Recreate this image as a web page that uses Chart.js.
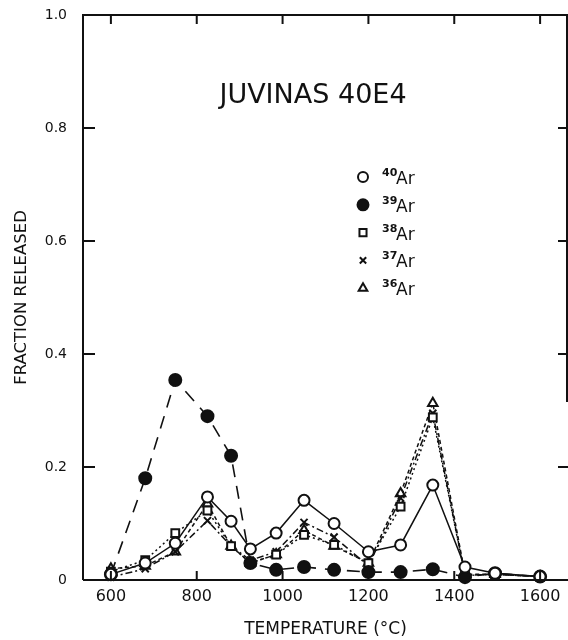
<!DOCTYPE html>
<html>
<head>
<meta charset="utf-8">
<script src="https://cdn.jsdelivr.net/npm/chart.js@4.4.1/dist/chart.umd.min.js"></script>
<style>
  html, body { margin: 0; padding: 0; background: #fff; overflow: hidden; }
  #wrap { width: 568px; height: 640px; }
</style>
</head>
<body>
<div id="wrap"><canvas id="chartJuvinas"></canvas></div>
<script>
// suhu ekstraksi (°C)
const suhu = [600, 680, 750, 825, 880, 925, 985, 1050, 1120, 1200, 1275, 1350, 1425, 1495, 1600];

// fraksi yang dilepas per isotop
const ar40 = [0.010, 0.030, 0.065, 0.147, 0.104, 0.055, 0.083, 0.141, 0.100, 0.050, 0.062, 0.168, 0.023, 0.012, 0.006];
const ar39 = [0.010, 0.180, 0.354, 0.290, 0.220, 0.030, 0.018, 0.023, 0.018, 0.014, 0.014, 0.019, 0.005, 0.012, 0.006];
const ar38 = [0.015, 0.035, 0.083, 0.123, 0.060, 0.030, 0.045, 0.080, 0.062, 0.030, 0.130, 0.288, 0.008, 0.010, 0.006];
const ar37 = [0.005, 0.020, 0.050, 0.105, 0.060, 0.035, 0.050, 0.102, 0.076, 0.025, 0.145, 0.295, 0.008, 0.010, 0.006];
const ar36 = [0.020, 0.025, 0.050, 0.135, 0.060, 0.030, 0.045, 0.088, 0.060, 0.030, 0.153, 0.313, 0.010, 0.010, 0.006];

const xTicks = [600, 800, 1000, 1200, 1400, 1600];
const yTicks = [0, 0.2, 0.4, 0.6, 0.8, 1.0];
const isotop = ["40", "39", "38", "37", "36"];
const judul = "JUVINAS 40E4";

const hitam = "#111";
const fontUtama = "'DejaVu Sans', sans-serif";

const toPoints = (arr) => arr.map((v, i) => ({ x: suhu[i], y: v }));

const makeSet = (label, data, style, radius, fill, dash, width) => ({
    label, data: toPoints(data),
    borderColor: hitam, backgroundColor: fill,
    pointStyle: style, pointRadius: radius, pointBorderWidth: 2,
    pointBackgroundColor: fill, pointBorderColor: hitam,
    borderWidth: width, borderDash: dash,
    tension: 0, clip: false, showLine: true
});

const datasets = [
    makeSet("40Ar", ar40, "circle", 5.5, "#fff", [], 1.5),
    makeSet("39Ar", ar39, "circle", 6, hitam, [13, 9], 1.6),
    makeSet("38Ar", ar38, "rect", 5.5, "#fff", [2, 3], 1.5),
    makeSet("37Ar", ar37, "crossRot", 5, hitam, [7, 3, 2, 3], 1.5),
    makeSet("36Ar", ar36, "triangle", 5.5, "#fff", [4, 3], 1.5)
];

// bingkai, tick ke dalam, judul, legenda
const framePlugin = {
    id: "framePlugin",
    afterDraw(chart) {
        const ctx = chart.ctx;
        const xs = chart.scales.x, ys = chart.scales.y;
        const a = chart.chartArea;
        ctx.save();
        ctx.strokeStyle = hitam;
        ctx.lineWidth = 2;
        ctx.beginPath();
        ctx.moveTo(a.left, a.bottom); ctx.lineTo(a.left, a.top); ctx.lineTo(a.right, a.top);
        ctx.moveTo(a.left, a.bottom); ctx.lineTo(a.right, a.bottom);
        ctx.moveTo(a.right - 1, a.top); ctx.lineTo(a.right - 1, ys.getPixelForValue(0.315));
        ctx.stroke();

        ctx.beginPath();
        xTicks.forEach(t => {
            const px = xs.getPixelForValue(t);
            ctx.moveTo(px, a.top); ctx.lineTo(px, a.top + 9);
            ctx.moveTo(px, a.bottom); ctx.lineTo(px, a.bottom - 9);
        });
        yTicks.slice(1, 5).forEach(t => {
            const py = ys.getPixelForValue(t);
            ctx.moveTo(a.left, py); ctx.lineTo(a.left + 12, py);
            ctx.moveTo(a.right, py); ctx.lineTo(a.right - 10, py);
        });
        ctx.stroke();

        // judul
        ctx.fillStyle = hitam;
        ctx.font = "27px " + fontUtama;
        ctx.textAlign = "center";
        ctx.textBaseline = "middle";
        ctx.fillText(judul, 313, 96);

        // legenda
        const lx = 363, ly = 177, gap = 27.8;
        datasets.forEach((ds, i) => {
            const y = ly + i * gap;
            ctx.fillStyle = ds.pointBackgroundColor;
            ctx.strokeStyle = hitam;
            ctx.lineWidth = 2;
            Chart.helpers.drawPoint(ctx, { pointStyle: ds.pointStyle, radius: ds.pointRadius - 0.5, borderWidth: 2 }, lx, y);
            ctx.fillStyle = hitam;
            ctx.textAlign = "left";
            ctx.textBaseline = "alphabetic";
            ctx.font = "bold 11px " + fontUtama;
            ctx.fillText(isotop[i], 382, y - 1);
            ctx.font = "17px " + fontUtama;
            ctx.fillText("Ar", 396, y + 7);
        });
        ctx.restore();
    }
};

const canvas = document.getElementById("chartJuvinas");
const chartJuvinas = new Chart(canvas.getContext("2d"), {
    type: "scatter",
    data: { datasets },
    options: {
        responsive: true,
        maintainAspectRatio: false,
        animation: false,
        layout: { autoPadding: false, padding: { top: 15, right: 0, left: 0, bottom: 0 } },
        plugins: { legend: { display: false }, tooltip: { enabled: false } },
        scales: {
            x: {
                type: "linear", min: 535, max: 1665,
                afterBuildTicks: (s) => { s.ticks = xTicks.map(v => ({ value: v })); },
                afterFit: (s) => { s.height = 60; s.paddingLeft = 0; s.paddingRight = 0; },
                grid: { display: false, drawTicks: false },
                border: { display: false },
                ticks: { color: hitam, padding: 7, font: { family: fontUtama, size: 16 }, callback: (v) => String(v) },
                title: { display: true, text: "TEMPERATURE (°C)", color: hitam, padding: { top: 0, bottom: 0 }, font: { family: fontUtama, size: 17 } }
            },
            y: {
                type: "linear", min: 0, max: 1.0,
                afterBuildTicks: (s) => { s.ticks = yTicks.map(v => ({ value: v })); },
                afterFit: (s) => { s.width = 83; s.paddingTop = 0; s.paddingBottom = 0; },
                grid: { display: false, drawTicks: false },
                border: { display: false },
                ticks: {
                    color: hitam, padding: 16, font: { family: fontUtama, size: 14 },
                    callback: (v) => v === 0 ? "0" : v.toFixed(1)
                },
                title: { display: true, text: "FRACTION RELEASED", color: hitam, padding: { top: 12, bottom: 0 }, font: { family: fontUtama, size: 16.5 } }
            }
        }
    },
    plugins: [framePlugin]
});
</script>
</body>
</html>
